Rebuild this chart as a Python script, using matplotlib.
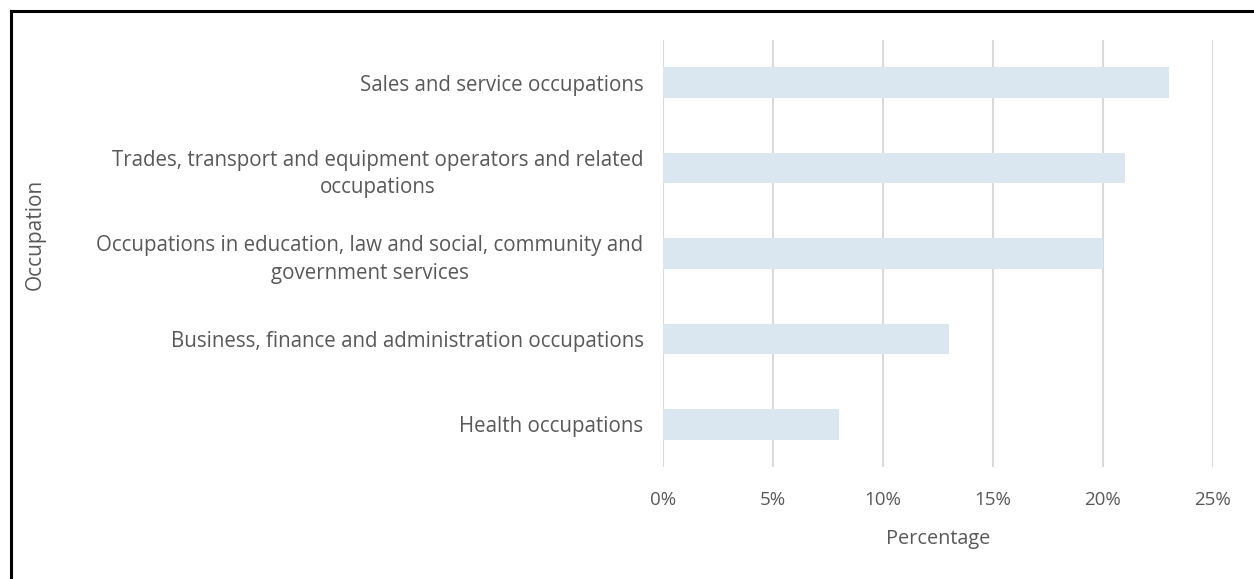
import matplotlib.pyplot as plt
from matplotlib.lines import Line2D
import numpy as np

occupations = [
    "Health occupations",
    "Business, finance and administration occupations",
    "Occupations in education, law and social, community and\ngovernment services",
    "Trades, transport and equipment operators and related\noccupations",
    "Sales and service occupations",
]
share = [8, 13, 20, 21, 23]
xticks = [0, 5, 10, 15, 20, 25]

plt.rcParams['font.family'] = ['Open Sans', 'DejaVu Sans']
text_grey = '#595959'

fig = plt.figure(figsize=(12.54, 5.79), dpi=100)
ax = fig.add_axes([0.5287, 0.1934, 0.4386, 0.7375])

y = np.arange(len(occupations))
ax.barh(y, share, height=0.36, color='#dae6f0', zorder=2)

ax.set_ylim(-0.5, len(occupations) - 0.5)
ax.set_xlim(0, 25)
ax.set_xticks(xticks)
ax.set_xticklabels([f"{t}%" for t in xticks], fontsize=13.5)
ax.set_yticks(y)
ax.set_yticklabels(occupations, multialignment='center', linespacing=1.42,
                   fontsize=14.8)

ax.grid(axis='x', color='#d9d9d9', linewidth=1.5, zorder=0)
for s in ax.spines.values():
    s.set_visible(False)
ax.tick_params(axis='both', length=0, labelcolor=text_grey)
ax.tick_params(axis='x', pad=17)
ax.tick_params(axis='y', pad=14)

ax.set_xlabel("Percentage", fontsize=14.3, color=text_grey, labelpad=15)
fig.text(0.028, 0.595, "Occupation", rotation=90, fontsize=15, color=text_grey,
         ha='center', va='center')

# frame lines on top and left
fig.add_artist(Line2D([0.0088, 1.0], [0.9810, 0.9810], color='black', linewidth=2.2,
                      transform=fig.transFigure))
fig.add_artist(Line2D([0.0088, 0.0088], [0.0, 0.9810], color='black', linewidth=2.2,
                      transform=fig.transFigure))

fig.savefig("out.png", dpi=100)
